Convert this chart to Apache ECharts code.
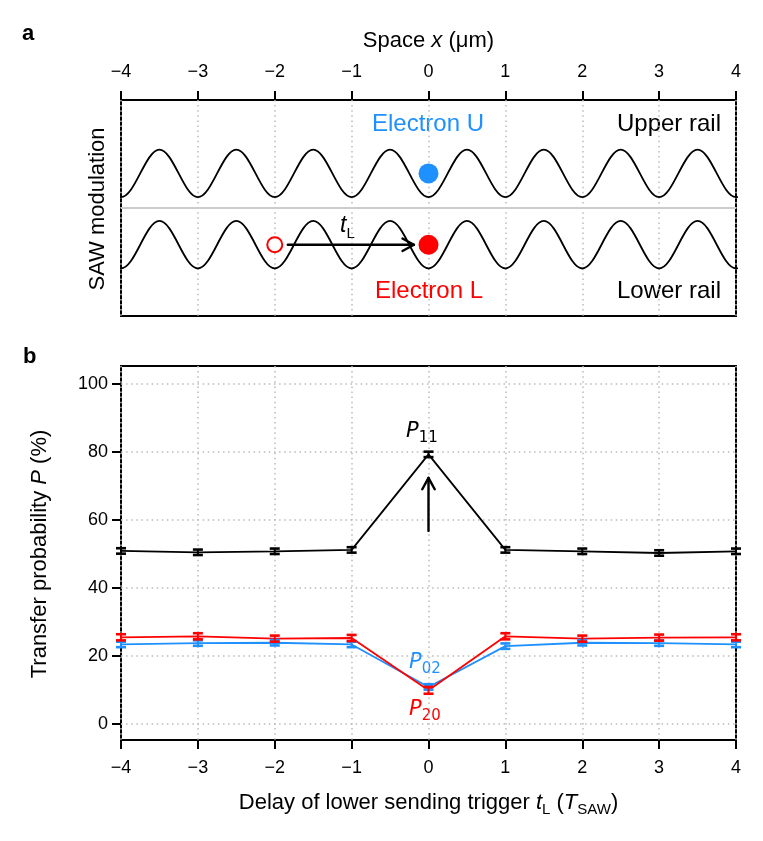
<!DOCTYPE html>
<html>
<head>
<meta charset="utf-8">
<script src="https://cdn.jsdelivr.net/npm/echarts@6/dist/echarts.min.js"></script>
<style>
  html, body { margin: 0; padding: 0; background: #fff; }
  #chart { width: 763px; height: 841px; }
</style>
</head>
<body>
<div id="chart"></div>
<script>
// panel b data
const delays = [-4, -3, -2, -1, 0, 1, 2, 3, 4];
const p11 = [50.9, 50.5, 50.8, 51.2, 79.3, 51.2, 50.8, 50.3, 50.8];
const p11Err = [0.8, 0.8, 0.8, 0.8, 0.8, 0.8, 0.8, 0.8, 0.8];
const p20 = [25.5, 25.8, 25.1, 25.3, 9.9, 25.8, 25.1, 25.4, 25.5];
const p20Err = [0.9, 0.9, 0.9, 0.9, 1.0, 0.9, 0.9, 0.9, 0.9];
const p02 = [23.4, 23.8, 23.9, 23.4, 10.9, 22.9, 23.9, 23.8, 23.4];
const p02Err = [0.8, 0.8, 0.8, 0.8, 0.8, 0.8, 0.8, 0.8, 0.8];

// panel a schematic (space x in um, vertical in arbitrary units)
const waveX = [-4.5, -4, -3.5, -3, -2.5, -2, -1.5, -1, -0.5, 0, 0.5, 1, 1.5, 2, 2.5, 3, 3.5, 4, 4.5];
const upperWave = [2.7, 0.5, 2.7, 0.5, 2.7, 0.5, 2.7, 0.5, 2.7, 0.5, 2.7, 0.5, 2.7, 0.5, 2.7, 0.5, 2.7, 0.5, 2.7];
const lowerWave = [-0.6, -2.8, -0.6, -2.8, -0.6, -2.8, -0.6, -2.8, -0.6, -2.8, -0.6, -2.8, -0.6, -2.8, -0.6, -2.8, -0.6, -2.8, -0.6];
const electronU = [0, 1.6];
const electronL = [0, -1.7];
const electronLStart = [-2, -1.7];
const shiftArrow = [-1.83, -1.7, -0.19, -1.7];
const p11Arrow = [0, 56.8, 72.4];

const BLUE = "#1E90FF";
const RED = "#FF0000";
const FONT = "Liberation Sans";
const MATH = "DejaVu Sans";

const fmtMinus = v => (v < 0 ? "\u2212" + Math.abs(v) : String(v));
const zip = (xs, ys) => xs.map((x, i) => [x, ys[i]]);

const gridLine = { show: true, lineStyle: { color: "#bbb", width: 1.5, type: [1.5, 3.6] } };
const tick = { show: true, length: 9, lineStyle: { color: "#000", width: 2 } };
const noLine = { show: false, onZero: false };
const label = { color: "#000", fontFamily: FONT, fontSize: 18, formatter: fmtMinus };
const titleRich = {
    n: { fontFamily: FONT, fontSize: 22, color: "#000", lineHeight: 28, verticalAlign: "middle" },
    i: { fontFamily: FONT, fontSize: 22, fontStyle: "italic", color: "#000", lineHeight: 28, verticalAlign: "middle" },
    s: { fontFamily: FONT, fontSize: 15, color: "#000", lineHeight: 28, verticalAlign: "bottom" }
};

function errorBars(values, errs, color) {
    return {
        type: "custom",
        xAxisIndex: 2,
        yAxisIndex: 2,
        z: 4,
        data: delays.map((d, i) => [d, values[i] - errs[i], values[i] + errs[i]]),
        renderItem(params, api) {
            const lo = api.coord([api.value(0), api.value(1)]);
            const hi = api.coord([api.value(0), api.value(2)]);
            const cap = { stroke: color, lineWidth: 2.6 };
            return {
                type: "group",
                children: [
                    { type: "line", shape: { x1: lo[0], y1: lo[1], x2: hi[0], y2: hi[1] }, style: { stroke: color, lineWidth: 2 } },
                    { type: "line", shape: { x1: lo[0] - 5, y1: lo[1], x2: lo[0] + 5, y2: lo[1] }, style: cap },
                    { type: "line", shape: { x1: hi[0] - 5, y1: hi[1], x2: hi[0] + 5, y2: hi[1] }, style: cap }
                ]
            };
        }
    };
}

function arrowRender(params, api) {
    const a = api.coord([api.value(0), api.value(1)]);
    const b = api.coord([api.value(2), api.value(3)]);
    const ang = Math.atan2(b[1] - a[1], b[0] - a[0]);
    const h = 13, w = 0.5;
    const st = { stroke: "#000", lineWidth: 2.4, lineCap: "round", lineJoin: "round", fill: null };
    return {
        type: "group",
        children: [
            { type: "line", shape: { x1: a[0], y1: a[1], x2: b[0], y2: b[1] }, style: st },
            {
                type: "polyline",
                shape: {
                    points: [
                        [b[0] - h * Math.cos(ang - w), b[1] - h * Math.sin(ang - w)],
                        [b[0], b[1]],
                        [b[0] - h * Math.cos(ang + w), b[1] - h * Math.sin(ang + w)]
                    ]
                },
                style: st
            }
        ]
    };
}

function mathLabel(x, y, sub, color) {
    return {
        type: "text", x: x, y: y,
        style: {
            text: "{i|P}{s|" + sub + "}",
            rich: {
                i: { fontFamily: MATH, fontSize: 21, fontStyle: "italic", fill: color, lineHeight: 28, verticalAlign: "middle" },
                s: { fontFamily: MATH, fontSize: 15, fill: color, lineHeight: 28, verticalAlign: "bottom" }
            }
        }
    };
}

const chart = echarts.init(document.getElementById("chart"));

chart.setOption({
    backgroundColor: "#fff",
    animation: false,
    grid: [
        { left: 121, right: 27, top: 100, height: 216, show: true, borderColor: "#000", borderWidth: 2 },
        { left: 121, right: 27, top: 366, height: 374, show: true, borderColor: "#000", borderWidth: 2 },
        { left: 121, right: 27, top: 384, height: 340 }
    ],
    xAxis: [
        {
            gridIndex: 0, type: "value", position: "top", min: -4, max: 4, interval: 1,
            axisLine: noLine, axisTick: tick,
            axisLabel: Object.assign({ margin: 19 }, label),
            splitLine: gridLine,
            name: "{n|Space }{i|x}{n| (\u03bcm)}",
            nameLocation: "middle", nameGap: 45,
            nameTextStyle: { rich: titleRich }
        },
        {
            gridIndex: 1, type: "value", position: "bottom", min: -4, max: 4, interval: 1,
            axisLine: noLine, axisTick: tick,
            axisLabel: Object.assign({ margin: 19 }, label),
            splitLine: gridLine,
            name: "{n|Delay of lower sending trigger }{i|t}{s|L}{n| (}{i|T}{s|SAW}{n|)}",
            nameLocation: "middle", nameGap: 49,
            nameTextStyle: { rich: titleRich }
        },
        { gridIndex: 2, type: "value", min: -4, max: 4, show: false }
    ],
    yAxis: [
        { gridIndex: 0, type: "value", min: -5, max: 5, show: false },
        { gridIndex: 1, type: "value", min: -5, max: 105, show: false },
        {
            gridIndex: 2, type: "value", min: 0, max: 100, interval: 20,
            axisLine: noLine, axisTick: tick,
            axisLabel: Object.assign({ margin: 13 }, label),
            splitLine: gridLine,
            name: "{n|Transfer probability }{i|P}{n| (%)}",
            nameLocation: "middle", nameGap: 67,
            nameTextStyle: { rich: titleRich }
        }
    ],
    series: [
        // panel a
        {
            type: "line", xAxisIndex: 0, yAxisIndex: 0, data: [[-4, 0], [4, 0]],
            symbol: "none", lineStyle: { color: "#cccccc", width: 2 }, z: 2
        },
        {
            type: "line", xAxisIndex: 0, yAxisIndex: 0, data: zip(waveX, upperWave),
            smooth: 0.36, symbol: "none", clip: true, lineStyle: { color: "#000", width: 1.8 }, z: 3
        },
        {
            type: "line", xAxisIndex: 0, yAxisIndex: 0, data: zip(waveX, lowerWave),
            smooth: 0.36, symbol: "none", clip: true, lineStyle: { color: "#000", width: 1.8 }, z: 3
        },
        {
            type: "custom", xAxisIndex: 0, yAxisIndex: 0, z: 4,
            data: [shiftArrow], renderItem: arrowRender
        },
        {
            type: "scatter", xAxisIndex: 0, yAxisIndex: 0, z: 5, symbolSize: 20,
            data: [electronU], itemStyle: { color: BLUE, opacity: 1 }
        },
        {
            type: "scatter", xAxisIndex: 0, yAxisIndex: 0, z: 5, symbolSize: 20,
            data: [electronL], itemStyle: { color: RED, opacity: 1 }
        },
        {
            type: "scatter", xAxisIndex: 0, yAxisIndex: 0, z: 5, symbolSize: 15,
            data: [electronLStart], itemStyle: { color: "#fff", borderColor: RED, borderWidth: 2, opacity: 1 }
        },
        // panel b
        {
            type: "line", xAxisIndex: 2, yAxisIndex: 2, data: zip(delays, p02),
            symbol: "none", lineStyle: { color: BLUE, width: 1.8 }, z: 3
        },
        errorBars(p02, p02Err, BLUE),
        {
            type: "line", xAxisIndex: 2, yAxisIndex: 2, data: zip(delays, p20),
            symbol: "none", lineStyle: { color: RED, width: 1.8 }, z: 3
        },
        errorBars(p20, p20Err, RED),
        {
            type: "line", xAxisIndex: 2, yAxisIndex: 2, data: zip(delays, p11),
            symbol: "none", lineStyle: { color: "#000", width: 1.8 }, z: 3
        },
        errorBars(p11, p11Err, "#000"),
        {
            type: "custom", xAxisIndex: 2, yAxisIndex: 2, z: 4,
            data: [[p11Arrow[0], p11Arrow[1], p11Arrow[0], p11Arrow[2]]], renderItem: arrowRender
        }
    ],
    graphic: [
        { type: "text", left: 22, top: 23, style: { text: "a", font: "bold 22px " + FONT, fill: "#000" } },
        { type: "text", left: 23, top: 346, style: { text: "b", font: "bold 22px " + FONT, fill: "#000" } },
        {
            type: "text", x: 98, y: 209, rotation: Math.PI / 2,
            style: { text: "SAW modulation", font: "22px " + FONT, fill: "#000", align: "center", verticalAlign: "middle" }
        },
        { type: "text", x: 428, y: 124, style: { text: "Electron U", font: "24px " + FONT, fill: BLUE, align: "center", verticalAlign: "middle" } },
        { type: "text", x: 721, y: 124, style: { text: "Upper rail", font: "24px " + FONT, fill: "#000", align: "right", verticalAlign: "middle" } },
        { type: "text", x: 429, y: 291, style: { text: "Electron L", font: "24px " + FONT, fill: RED, align: "center", verticalAlign: "middle" } },
        { type: "text", x: 721, y: 291, style: { text: "Lower rail", font: "24px " + FONT, fill: "#000", align: "right", verticalAlign: "middle" } },
        {
            type: "text", x: 340, y: 211,
            style: {
                text: "{i|t}{s|L}",
                rich: {
                    i: { fontFamily: FONT, fontSize: 23, fontStyle: "italic", fill: "#000", lineHeight: 30, verticalAlign: "middle" },
                    s: { fontFamily: FONT, fontSize: 15, fill: "#000", lineHeight: 30, verticalAlign: "bottom" }
                }
            }
        },
        mathLabel(406, 418, "11", "#000"),
        mathLabel(409, 649, "02", BLUE),
        mathLabel(409, 696, "20", RED)
    ]
});
</script>
</body>
</html>
